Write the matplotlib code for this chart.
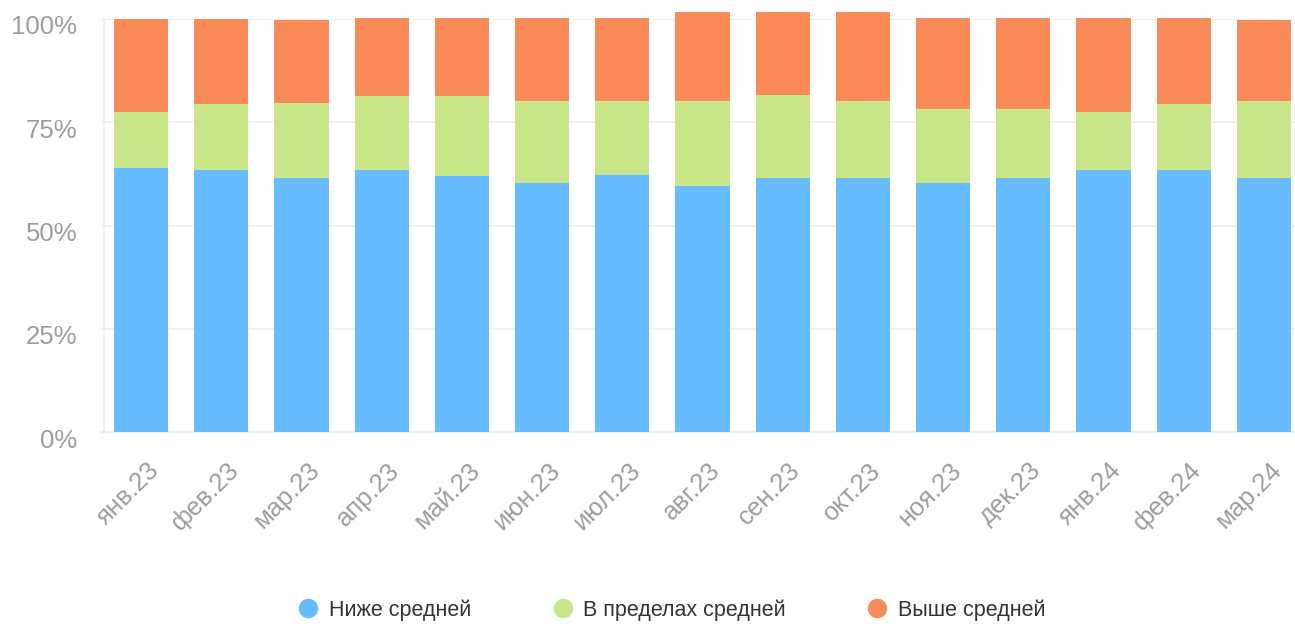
import matplotlib.pyplot as plt
import matplotlib.transforms as mtransforms
from matplotlib.lines import Line2D

plt.rcParams['font.family'] = ['Liberation Sans', 'DejaVu Sans']

# данные
months = ['янв.23', 'фев.23', 'мар.23', 'апр.23', 'май.23', 'июн.23', 'июл.23', 'авг.23',
          'сен.23', 'окт.23', 'ноя.23', 'дек.23', 'янв.24', 'фев.24', 'мар.24']
below = [64, 63.5, 61.5, 63.4, 62, 60.3, 62.2, 59.6, 61.5, 61.5, 60.3, 61.5, 63.4, 63.4, 61.5]
within = [13.5, 16, 18.2, 18, 19.4, 19.8, 17.9, 20.5, 20.1, 18.6, 17.9, 16.7, 14.1, 16, 18.6]
above = [22.5, 20.5, 20.1, 18.8, 18.8, 20.1, 20.1, 21.6, 20.1, 21.6, 22, 22, 22.7, 20.8, 19.7]
series_names = ['Ниже средней', 'В пределах средней', 'Выше средней']
colors = ['#67bcff', '#c8e687', '#fb8a59']

fig = plt.figure(figsize=(12.95, 6.26), dpi=100)
ax = fig.add_axes([101 / 1295, 1 - 432 / 626, 1203 / 1295, 413 / 626])

x = range(len(months))
bottom2 = [b + w for b, w in zip(below, within)]
ax.bar(x, below, width=0.675, color=colors[0], clip_on=False, zorder=3)
ax.bar(x, within, bottom=below, width=0.675, color=colors[1], clip_on=False, zorder=3)
ax.bar(x, above, bottom=bottom2, width=0.675, color=colors[2], clip_on=False, zorder=3)

ax.set_xlim(-0.5, len(months) - 0.5)
ax.set_ylim(0, 100)
ax.set_yticks([0, 25, 50, 75, 100])
ax.set_yticklabels(['0%', '25%', '50%', '75%', '100%'])
ax.grid(axis='y', color='#efefef', linewidth=1.2, zorder=0)
ax.set_axisbelow(True)

for s in ['top', 'right']:
    ax.spines[s].set_visible(False)
ax.spines['left'].set_color('#efefef')
ax.spines['left'].set_linewidth(1.2)
ax.spines['left'].set_position(('data', -0.46))
ax.spines['bottom'].set_color('#efefef')
ax.spines['bottom'].set_linewidth(1.5)

ax.tick_params(axis='y', length=0, pad=19.5, labelsize=18.5, labelcolor='#9d9d9d')
ax.tick_params(axis='x', length=0, pad=25, labelsize=18.5, labelcolor='#9d9d9d')

ax.set_xticks(list(x))
ax.set_xticklabels(months, rotation=45, ha='right', va='center', rotation_mode='anchor')

off_y = mtransforms.ScaledTranslation(0, -6 / 100, fig.dpi_scale_trans)
for lab in ax.get_yticklabels():
    lab.set_transform(lab.get_transform() + off_y)
off_x = mtransforms.ScaledTranslation(14 / 100, 0, fig.dpi_scale_trans)
for lab in ax.get_xticklabels():
    lab.set_transform(lab.get_transform() + off_x)

handles = [Line2D([], [], marker='o', linestyle='none', markersize=13,
                  markerfacecolor=c, markeredgecolor=c) for c in colors]
fig.legend(handles, series_names, loc='center', bbox_to_anchor=(672 / 1295, 1 - 610 / 626),
           ncol=3, frameon=False, fontsize=15.5, labelcolor='#333333',
           handlelength=0.9, handletextpad=0.5, columnspacing=3.8)

fig.savefig('out.png', dpi=100)
